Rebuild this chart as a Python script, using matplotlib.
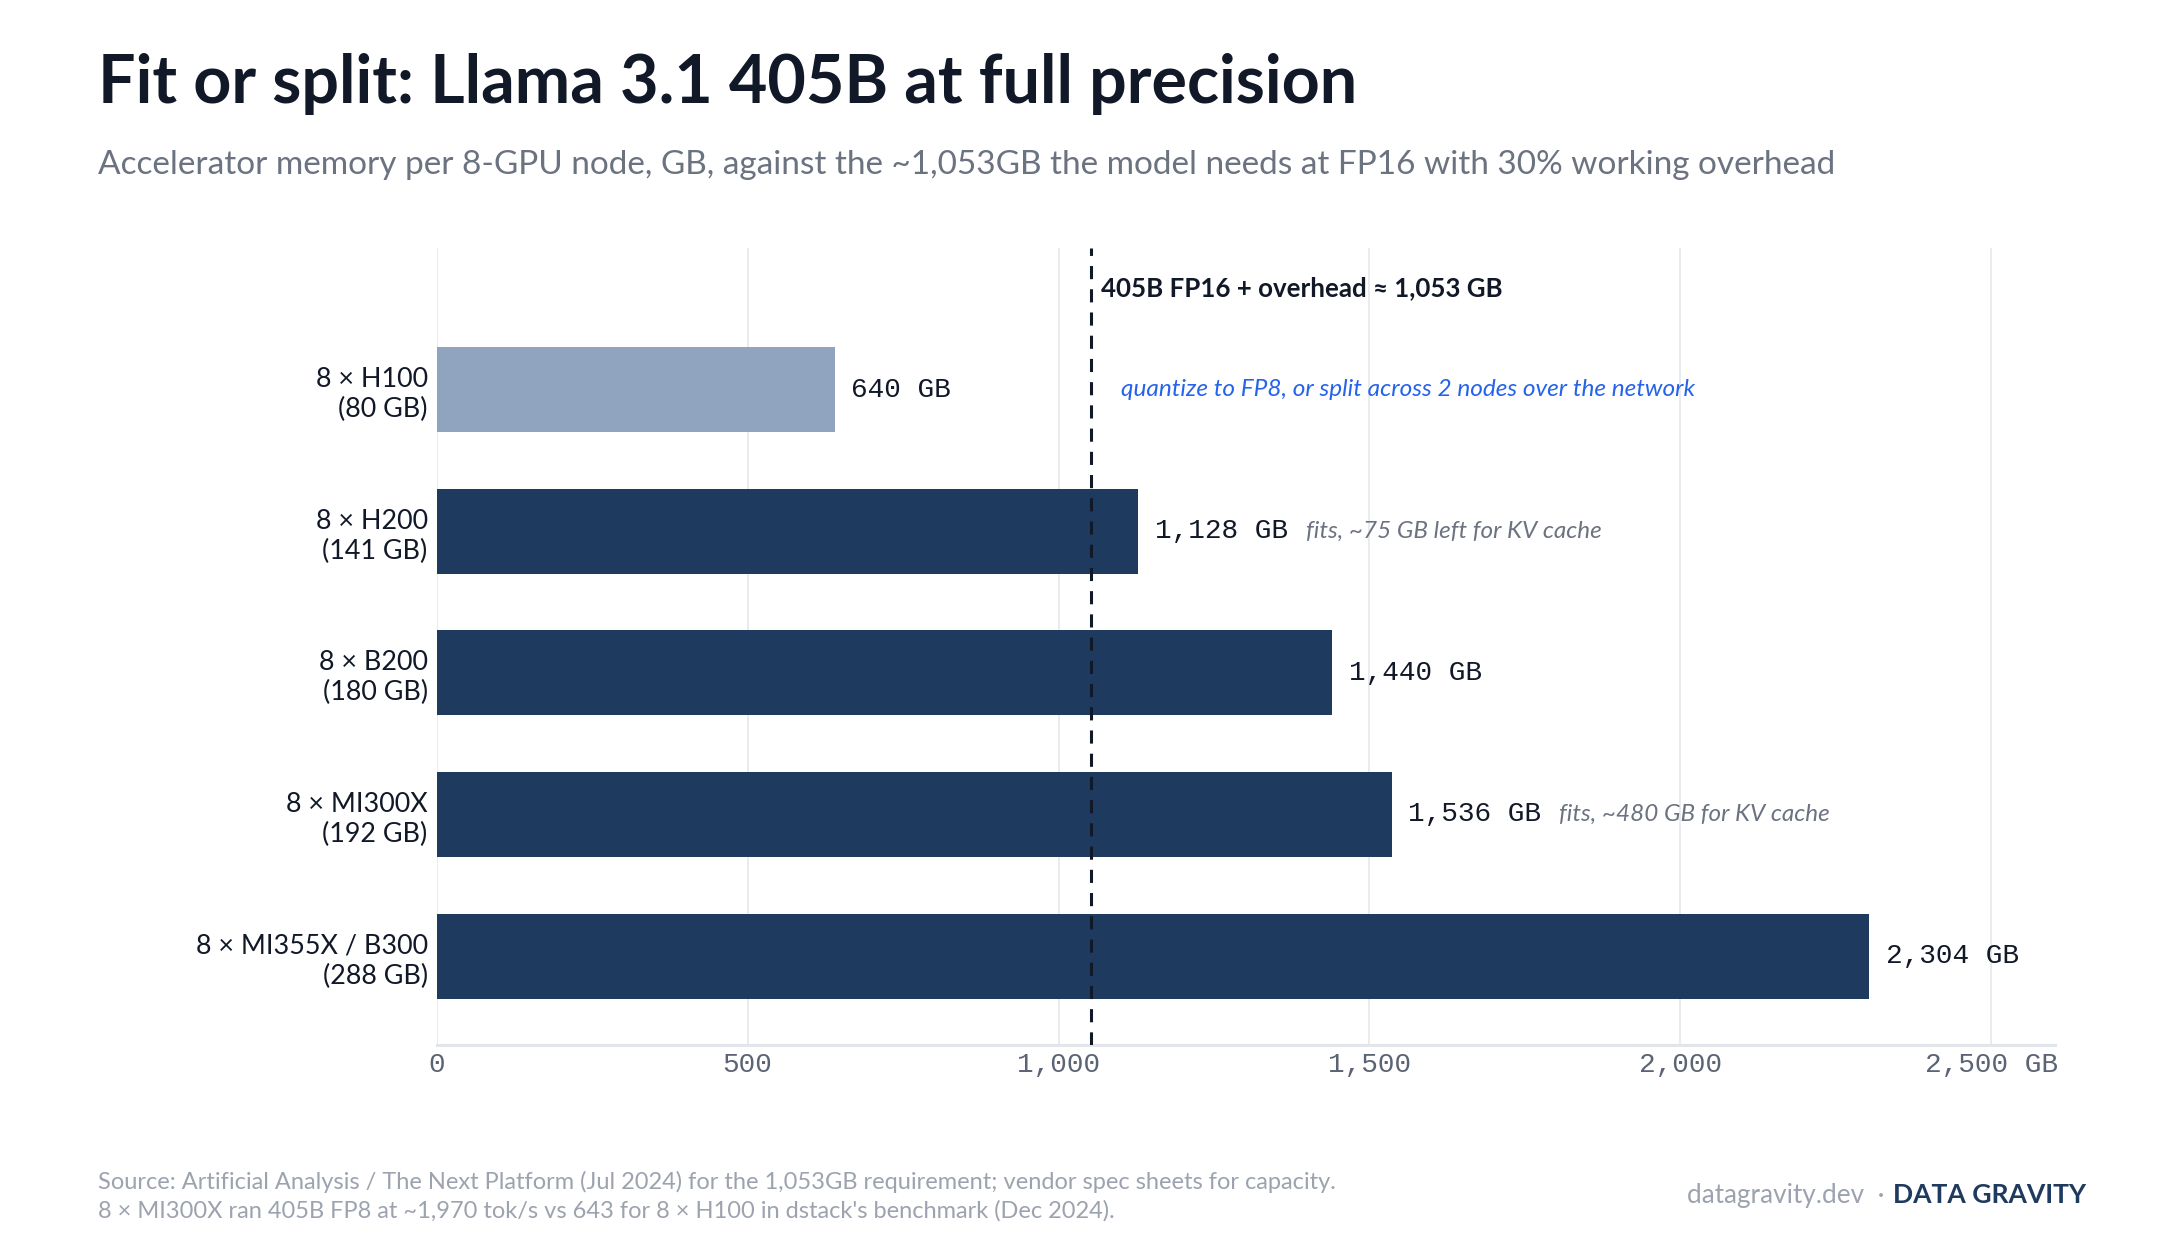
import matplotlib.pyplot as plt

plt.rcParams['font.family'] = ['Lato', 'DejaVu Sans']

# data
gpus = ["8 × H100\n(80 GB)", "8 × H200\n(141 GB)", "8 × B200\n(180 GB)",
        "8 × MI300X\n(192 GB)", "8 × MI355X / B300\n(288 GB)"]
node_mem = [640, 1128, 1440, 1536, 2304]
bar_colors = ["#90a4bf", "#1f3a5f", "#1f3a5f", "#1f3a5f", "#1f3a5f"]
notes = {1: "fits, ~75 GB left for KV cache", 3: "fits, ~480 GB for KV cache"}
need_gb = 1053
xticks = [0, 500, 1000, 1500, 2000, 2500]
xtick_labels = ["0", "500", "1,000", "1,500", "2,000", "2,500 GB"]

DARK = "#111827"
GRAY = "#6b7280"
MONO = ["Liberation Mono", "DejaVu Sans Mono"]

fig = plt.figure(figsize=(10.92, 6.2), dpi=200)
ax = fig.add_axes([0.2, 0.157, 0.741, 0.643])

ypos = list(range(len(gpus)))
ax.barh(ypos, node_mem, height=0.6, color=bar_colors, zorder=2)

ax.set_xlim(0, 2603)
ax.set_ylim(4.63, -1.0)

ax.set_yticks(ypos)
ax.set_yticklabels(gpus, fontsize=9.7, color=DARK, linespacing=1.25)
ax.set_xticks(xticks)
ax.set_xticklabels(xtick_labels, family=MONO, fontsize=10.0, color="#5b6474")
ax.tick_params(axis='both', length=0)
ax.tick_params(axis='y', pad=3.3)
ax.tick_params(axis='x', pad=2.5)

ax.grid(axis='x', color="#e5e7eb", linewidth=0.6, zorder=0)
ax.grid(axis='y', visible=False)
for side in ['top', 'right', 'left']:
    ax.spines[side].set_visible(False)
ax.spines['bottom'].set_color("#e2e6eb")
ax.spines['bottom'].set_linewidth(1.1)

# requirement line
ax.axvline(need_gb, color=DARK, linewidth=1.1, linestyle=(0, (4.3, 3.3)), zorder=3)
ax.text(need_gb + 15, -0.72, "405B FP16 + overhead ≈ 1,053 GB", fontsize=9.3,
        fontweight='bold', color=DARK, va='center', ha='left')
ax.text(need_gb + 48, 0, "quantize to FP8, or split across 2 nodes over the network",
        fontsize=8.8, style='italic', color="#2563eb", va='center', ha='left')

# value labels + notes
for i, v in enumerate(node_mem):
    t = ax.annotate(f"{v:,} GB", xy=(v, i), xytext=(6, 0), textcoords='offset points',
                    family=MONO, fontsize=10.0, color=DARK, va='center', ha='left')
    if i in notes:
        ax.annotate(notes[i], xy=(1, 0.5), xycoords=t, xytext=(6.5, 0),
                    textcoords='offset points', fontsize=8.75, style='italic',
                    color=GRAY, va='center', ha='left')

# title block
fig.text(0.045, 0.957, "Fit or split: Llama 3.1 405B at full precision",
         fontsize=23.9, fontweight='bold', color=DARK, va='top', ha='left')
fig.text(0.045, 0.879, "Accelerator memory per 8-GPU node, GB, against the ~1,053GB the model "
         "needs at FP16 with 30% working overhead",
         fontsize=12, color=GRAY, va='top', ha='left')

# footer
fig.text(0.045, 0.035, "Source: Artificial Analysis / The Next Platform (Jul 2024) for the 1,053GB "
         "requirement; vendor spec sheets for capacity.\n8 × MI300X ran 405B FP8 at ~1,970 tok/s "
         "vs 643 for 8 × H100 in dstack's benchmark (Dec 2024).",
         fontsize=8.5, color="#9ca3af", va='center', ha='left', linespacing=1.4)
fig.text(0.9552, 0.036, "DATA GRAVITY", fontsize=9.55, fontweight='bold',
         color="#1f3a5f", va='center', ha='right')
fig.text(0.8627, 0.036, "datagravity.dev  ·", fontsize=9.4, color="#9ca3af",
         va='center', ha='right')

fig.savefig("out.png", dpi=200, facecolor='white')
